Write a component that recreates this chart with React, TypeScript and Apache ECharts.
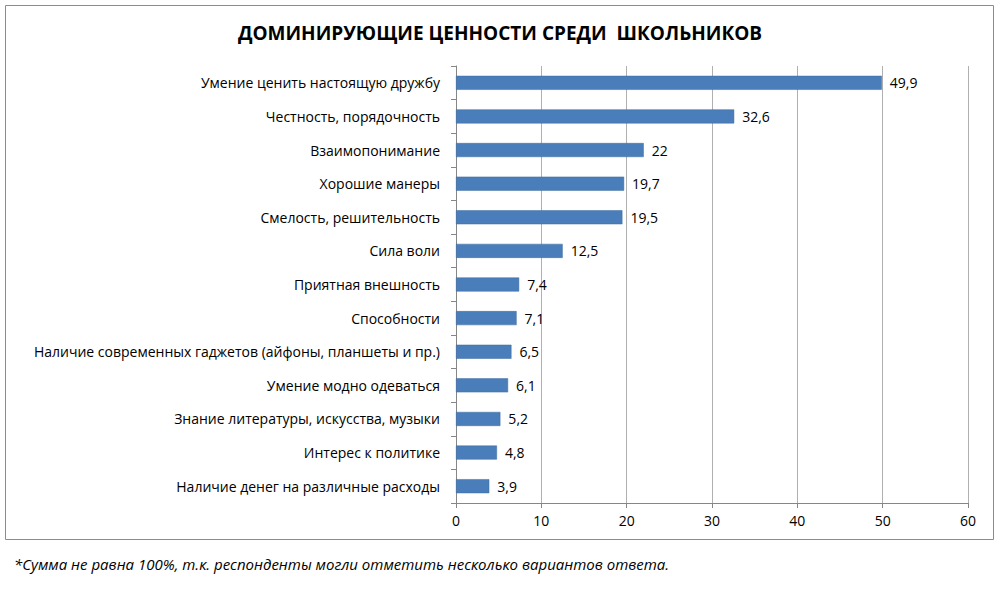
import React, { useEffect, useRef } from 'react';
import * as echarts from 'echarts';

const categories = [
  'Умение ценить настоящую дружбу',
  'Честность, порядочность',
  'Взаимопонимание',
  'Хорошие манеры',
  'Смелость, решительность',
  'Сила воли',
  'Приятная внешность',
  'Способности',
  'Наличие современных гаджетов (айфоны, планшеты и пр.)',
  'Умение модно одеваться',
  'Знание литературы, искусства, музыки',
  'Интерес к политике',
  'Наличие денег на различные расходы',
];
const values = [49.9, 32.6, 22, 19.7, 19.5, 12.5, 7.4, 7.1, 6.5, 6.1, 5.2, 4.8, 3.9];

const FONT = '"Open Sans", "Liberation Sans", sans-serif';

const App: React.FC = () => {
  const chartRef = useRef<HTMLDivElement>(null);

  useEffect(() => {
    document.body.style.margin = '0';
    if (!chartRef.current) return;
    const chart = echarts.init(chartRef.current, undefined, { renderer: 'svg' });

    const option: echarts.EChartsOption = {
      animation: false,
      backgroundColor: '#fff',
      title: {
        text: 'ДОМИНИРУЮЩИЕ ЦЕННОСТИ СРЕДИ  ШКОЛЬНИКОВ',
        left: 'center',
        top: 18,
        textStyle: { fontSize: 19, fontWeight: 'bold', color: '#000', fontFamily: FONT },
      },
      grid: { left: 456, right: 32, top: 66, bottom: 90 },
      xAxis: {
        type: 'value',
        min: 0,
        max: 60,
        interval: 10,
        axisLine: { show: true, lineStyle: { color: '#868686' } },
        axisTick: { show: true, length: 5, lineStyle: { color: '#868686' } },
        axisLabel: { color: '#000', fontSize: 14, fontFamily: FONT, margin: 10 },
        splitLine: { lineStyle: { color: '#b0b0b0' } },
      },
      yAxis: {
        type: 'category',
        data: categories,
        inverse: true,
        axisLine: { show: true, lineStyle: { color: '#868686' } },
        axisTick: { show: true, length: 5, lineStyle: { color: '#868686' } },
        axisLabel: { color: '#000', fontSize: 14, fontFamily: FONT, margin: 16 },
      },
      series: [
        {
          type: 'bar',
          data: values,
          barWidth: 14,
          itemStyle: { color: '#4a7ebb', borderColor: '#3c6a9f', borderWidth: 0.5 },
          label: {
            show: true,
            position: 'right',
            distance: 8,
            color: '#000',
            fontSize: 14,
            fontFamily: FONT,
            formatter: (p: any) => String(p.value).replace('.', ','),
          },
        },
      ],
      graphic: [
        {
          type: 'rect',
          shape: { x: 5.5, y: 5.5, width: 988, height: 534 },
          style: { fill: 'none', stroke: '#8c8c8c', lineWidth: 1 },
          silent: true,
        },
        {
          type: 'text',
          left: 14,
          top: 556,
          style: {
            text: '*Сумма не равна 100%, т.к. респонденты могли отметить несколько вариантов ответа.',
            fill: '#000',
            fontSize: 15,
            fontStyle: 'italic',
            fontFamily: FONT,
          },
        },
      ] as any,
    };

    chart.setOption(option);
    return () => chart.dispose();
  }, []);

  return <div ref={chartRef} style={{ width: 1000, height: 593 }} />;
};

export default App;
